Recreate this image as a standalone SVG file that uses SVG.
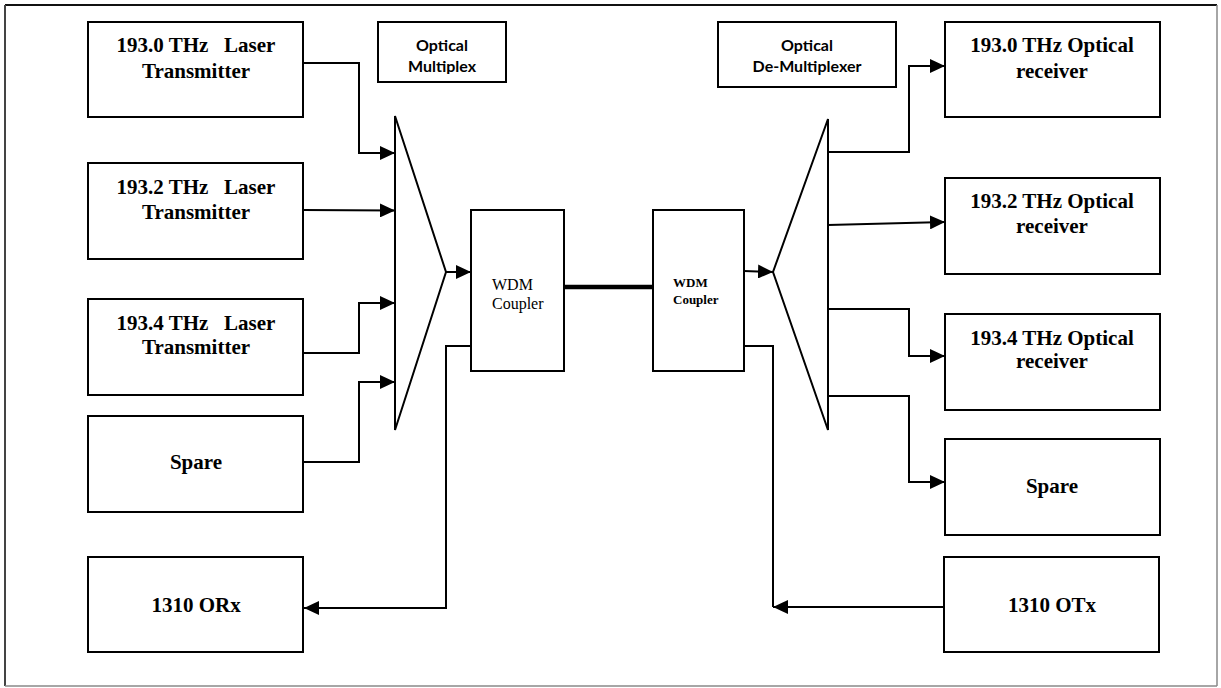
<svg xmlns="http://www.w3.org/2000/svg" width="1221" height="688" viewBox="0 0 1221 688">
<defs>
<style>
.box{fill:#fff;stroke:#000;stroke-width:2}
.tri{fill:#fff;stroke:#000;stroke-width:2;stroke-linejoin:miter}
.w{fill:none;stroke:#000;stroke-width:2}
.thick{fill:none;stroke:#000;stroke-width:4.5}
.t{font-family:"Liberation Serif","Times New Roman",serif;font-weight:bold;font-size:21px;fill:#000;text-anchor:middle;white-space:pre}
.s{font-family:Lato,"Liberation Sans",sans-serif;font-weight:bold;font-size:16px;fill:#000;text-anchor:middle}
.c1{font-family:"Liberation Serif","Times New Roman",serif;font-size:16px;fill:#000}
.c2{font-family:"Liberation Serif","Times New Roman",serif;font-weight:bold;font-size:13px;fill:#000}
</style>
<marker id="ah" markerUnits="userSpaceOnUse" markerWidth="16" markerHeight="14" refX="15" refY="7" orient="auto">
<path d="M0,0 L15,7 L0,14 z" fill="#000"/>
</marker>
<clipPath id="clipmux"><rect x="378" y="22" width="128" height="52"/></clipPath>
</defs>
<rect x="0" y="0" width="1221" height="688" fill="#fff"/>
<g id="frame">
<line x1="5" y1="5" x2="1217" y2="5" stroke="#111" stroke-width="2"/>
<line x1="5" y1="5" x2="5" y2="686" stroke="#444" stroke-width="2"/>
<line x1="1217" y1="5" x2="1217" y2="686" stroke="#888" stroke-width="1.5"/>
<line x1="5" y1="686" x2="1217" y2="686" stroke="#888" stroke-width="1.5"/>
</g>
<g id="connectors">
<path class="w" d="M303,63 H359 V153 H395" marker-end="url(#ah)"/>
<path class="w" d="M303,210 L395,210.5" marker-end="url(#ah)"/>
<path class="w" d="M303,353 H359 V303 H395" marker-end="url(#ah)"/>
<path class="w" d="M303,462 H359 V382 H395" marker-end="url(#ah)"/>
<path class="w" d="M446,272 H471" marker-end="url(#ah)"/>
<path class="thick" d="M564,287 H653"/>
<path class="w" d="M744,271 L773,272" marker-end="url(#ah)"/>
<path class="w" d="M828,152 H909 V66 H945" marker-end="url(#ah)"/>
<path class="w" d="M828,225 L945,222" marker-end="url(#ah)"/>
<path class="w" d="M828,309 H909 V356 H945" marker-end="url(#ah)"/>
<path class="w" d="M828,396 H909 V482 H945" marker-end="url(#ah)"/>
<path class="w" d="M471,346 H446 V608 H304" marker-end="url(#ah)"/>
<path class="w" d="M945,607 H773" marker-end="url(#ah)"/>
<path class="w" d="M773,607 V346 H744"/>
</g>
<g id="tx1"><rect class="box" x="88" y="22" width="215" height="95"/><text class="t" x="196" y="52">193.0 THz   Laser</text><text class="t" x="196" y="78">Transmitter</text></g>
<g id="tx2"><rect class="box" x="88" y="163" width="215" height="96"/><text class="t" x="196" y="194">193.2 THz   Laser</text><text class="t" x="196" y="219">Transmitter</text></g>
<g id="tx3"><rect class="box" x="88" y="299" width="215" height="96"/><text class="t" x="196" y="330">193.4 THz   Laser</text><text class="t" x="196" y="354">Transmitter</text></g>
<g id="spare-tx"><rect class="box" x="88" y="416" width="215" height="96"/><text class="t" x="196" y="469">Spare</text></g>
<g id="orx"><rect class="box" x="88" y="557" width="215" height="95"/><text class="t" x="196" y="612">1310 ORx</text></g>
<g id="mux-label"><rect class="box" x="378" y="22" width="128" height="60"/><g clip-path="url(#clipmux)"><text class="s" x="442" y="51">Optical</text><text class="s" x="442" y="72">Multiplex</text></g></g>
<g id="mux"><path class="tri" d="M395,116 L446,272 L395,430 Z"/></g>
<g id="wdm1"><rect class="box" x="471" y="210" width="93" height="161"/><text class="c1" x="492" y="290">WDM</text><text class="c1" x="492" y="309">Coupler</text></g>
<g id="wdm2"><rect class="box" x="653" y="210" width="91" height="161"/><text class="c2" x="673" y="287">WDM</text><text class="c2" x="673" y="304">Coupler</text></g>
<g id="demux"><path class="tri" d="M828,119 L773,272 L828,430 Z"/></g>
<g id="demux-label"><rect class="box" x="718" y="22" width="178" height="65"/><text class="s" x="807" y="51">Optical</text><text class="s" x="807" y="72">De-Multiplexer</text></g>
<g id="rx1"><rect class="box" x="945" y="22" width="215" height="95"/><text class="t" x="1052" y="52">193.0 THz Optical</text><text class="t" x="1052" y="78">receiver</text></g>
<g id="rx2"><rect class="box" x="945" y="178" width="215" height="96"/><text class="t" x="1052" y="208">193.2 THz Optical</text><text class="t" x="1052" y="233">receiver</text></g>
<g id="rx3"><rect class="box" x="945" y="314" width="215" height="96"/><text class="t" x="1052" y="345">193.4 THz Optical</text><text class="t" x="1052" y="368">receiver</text></g>
<g id="spare-rx"><rect class="box" x="945" y="439" width="215" height="96"/><text class="t" x="1052" y="493">Spare</text></g>
<g id="otx"><rect class="box" x="944" y="557" width="215" height="95"/><text class="t" x="1052" y="612">1310 OTx</text></g>
</svg>
